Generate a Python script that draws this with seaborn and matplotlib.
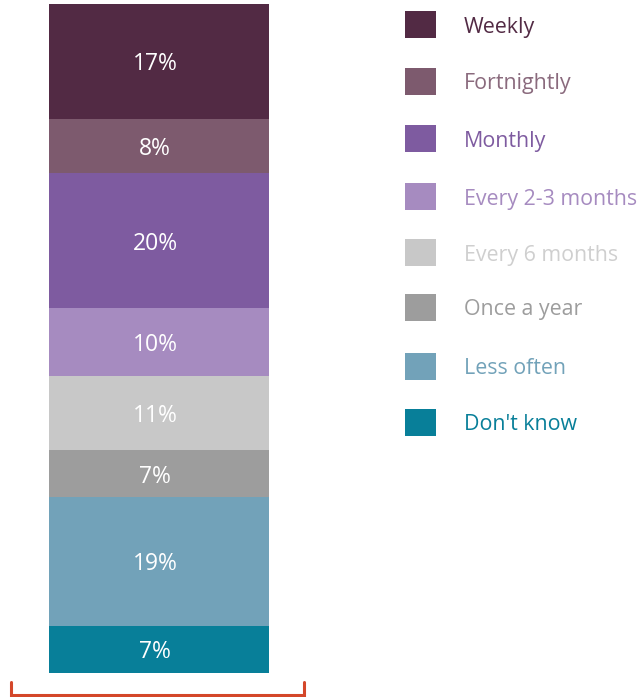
import matplotlib
matplotlib.use("Agg")
import matplotlib.pyplot as plt
import seaborn as sns
import numpy as np
import pandas as pd
from matplotlib.patches import Rectangle

categories = ["Weekly", "Fortnightly", "Monthly", "Every 2-3 months",
              "Every 6 months", "Once a year", "Less often", "Don't know"]
values = [17, 8, 20, 10, 11, 7, 19, 7]
labels = ["17%", "8%", "20%", "10%", "11%", "7%", "19%", "7%"]
colors = ["#522a44", "#7d5a6e", "#7e5ba0", "#a68bc0",
          "#c8c8c8", "#9d9d9d", "#72a2b9", "#087f99"]
text_colors = ["#522a44", "#8a6a7d", "#7e5ba0", "#a68bc0",
               "#cfcfcf", "#9d9d9d", "#72a2b9", "#087f99"]

sns.set_theme(style="white")
plt.rcParams["font.family"] = ["Open Sans", "DejaVu Sans"]

W, H = 639, 697
fig = plt.figure(figsize=(W / 100, H / 100), dpi=100)

bx0, bx1, by0, by1 = 49, 269, 4, 673
ax = fig.add_axes([bx0 / W, 1 - by1 / H, (bx1 - bx0) / W, (by1 - by0) / H])

order = list(range(len(values)))[::-1]  # bottom to top
cum = np.cumsum([values[i] for i in order])
total = cum[-1]
for k in range(len(order) - 1, -1, -1):
    i = order[k]
    df = pd.DataFrame({"x": ["all"], "y": [cum[k]]})
    sns.barplot(data=df, x="x", y="y", color=colors[i], width=1.0,
                saturation=1, ax=ax, linewidth=0)
bottoms = np.concatenate([[0], cum[:-1]])
for k, i in enumerate(order):
    ax.text(-0.018, bottoms[k] + values[i] / 2, labels[i], ha="center",
            va="center_baseline", color="white", fontsize=16.5)
ax.set_xlim(-0.5, 0.5)
ax.set_ylim(0, total)
ax.axis("off")

ov = fig.add_axes([0, 0, 1, 1])
ov.set_xlim(0, W)
ov.set_ylim(H, 0)
ov.axis("off")
legend_y = [24, 81, 138, 196, 252, 307, 366, 422]
for i, cat in enumerate(categories):
    y = legend_y[i]
    ov.add_patch(Rectangle((405, y - 13.5), 31, 27, color=colors[i], lw=0))
    ov.text(464, y + 0.5, cat, ha="left", va="center_baseline",
            color=text_colors[i], fontsize=15.4)

bracket_color = "#d4472a"
ov.plot([10.5, 10.5, 304, 304], [682, 695, 695, 682], color=bracket_color,
        lw=2.2, solid_joinstyle="miter")

fig.savefig("out.png", dpi=100)
